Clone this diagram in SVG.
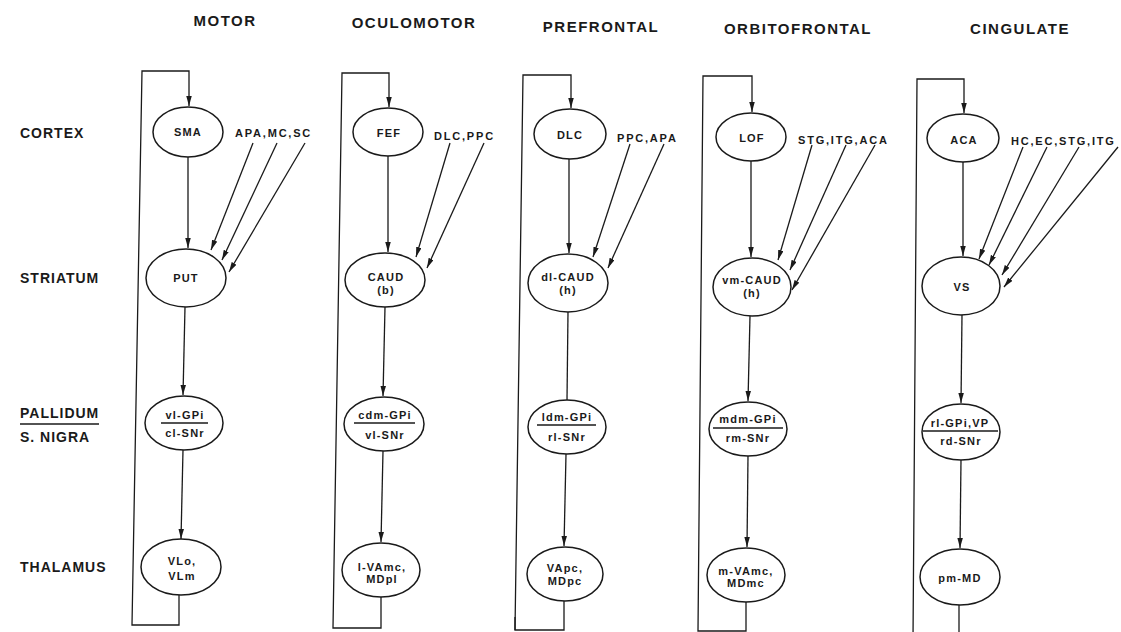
<svg xmlns="http://www.w3.org/2000/svg" width="1121" height="632" viewBox="0 0 1121 632">
  <style>
    .bg { fill: #ffffff; }
    .hdr { font-family: "Liberation Sans", Arial, sans-serif; font-weight: bold; font-size: 15px; letter-spacing: 1.5px; fill: #1a1a1a; text-anchor: middle; }
    .row { font-family: "Liberation Sans", Arial, sans-serif; font-weight: bold; font-size: 14px; letter-spacing: 1px; fill: #1a1a1a; }
    .nt { font-family: "Liberation Sans", Arial, sans-serif; font-weight: bold; font-size: 11px; letter-spacing: 1.2px; fill: #1a1a1a; text-anchor: middle; }
    .src { font-family: "Liberation Sans", Arial, sans-serif; font-weight: bold; font-size: 11px; letter-spacing: 1.8px; fill: #1a1a1a; }
    .node { fill: #ffffff; stroke: #1a1a1a; stroke-width: 1.5; }
    .bar { stroke: #1a1a1a; stroke-width: 1.3; }
    .edge { fill: none; stroke: #1a1a1a; stroke-width: 1.3; }
    .arr { marker-end: url(#head); }
  </style>
  <defs>
    <marker id="head" markerUnits="userSpaceOnUse" markerWidth="11" markerHeight="6" refX="10" refY="2.75" orient="auto">
      <path d="M0,0 L10,2.75 L0,5.5 z" fill="#1a1a1a"/>
    </marker>
  </defs>

  <rect class="bg" x="0" y="0" width="1121" height="632"/>

  <!-- circuit titles -->
  <g id="headers">
    <text class="hdr" x="225" y="26">MOTOR</text>
    <text class="hdr" x="414" y="28">OCULOMOTOR</text>
    <text class="hdr" x="601" y="32">PREFRONTAL</text>
    <text class="hdr" x="798" y="34">ORBITOFRONTAL</text>
    <text class="hdr" x="1020" y="34">CINGULATE</text>
  </g>

  <!-- structure levels -->
  <g id="levels">
    <text class="row" x="20" y="138">CORTEX</text>
    <text class="row" x="20" y="283">STRIATUM</text>
    <text class="row" x="20" y="418">PALLIDUM</text>
    <line class="bar" x1="20" y1="424" x2="99" y2="424"/>
    <text class="row" x="20" y="442">S. NIGRA</text>
    <text class="row" x="20" y="572">THALAMUS</text>
  </g>

  <!-- connectors -->
  <g id="connectors">
    <!-- motor -->
    <path class="edge arr" d="M179,595 L179,625 L132,625 L142,71 L189,71 L189,106"/>
    <path class="edge arr" d="M188,157 L188,248"/>
    <path class="edge arr" d="M253,143 L211,250"/>
    <path class="edge arr" d="M277,143 L222,260"/>
    <path class="edge arr" d="M305,143 L229,272"/>
    <path class="edge arr" d="M185,307 L183,395"/>
    <path class="edge arr" d="M183,450 L181,539"/>
    <!-- oculomotor -->
    <path class="edge arr" d="M381,597 L381,628 L333,628 L342,73 L389,73 L389,107"/>
    <path class="edge arr" d="M388,156 L388,252"/>
    <path class="edge arr" d="M450,143 L416,257"/>
    <path class="edge arr" d="M484,143 L427,268"/>
    <path class="edge arr" d="M385,307 L383,396"/>
    <path class="edge arr" d="M383,451 L381,542"/>
    <!-- prefrontal -->
    <path class="edge arr" d="M564,601 L564,630 L515,630 L523,75 L571,75 L571,108"/>
    <path class="edge" d="M515,617 L515,630"/>
    <path class="edge arr" d="M569,159 L569,253"/>
    <path class="edge arr" d="M630,144 L593,257"/>
    <path class="edge arr" d="M664,144 L608,268"/>
    <path class="edge" d="M568,312 L567,400"/>
    <path class="edge arr" d="M566,454 L564,546"/>
    <!-- orbitofrontal -->
    <path class="edge arr" d="M746,602 L746,631 L698,631 L703,76 L752,76 L752,112"/>
    <path class="edge arr" d="M751,161 L751,257"/>
    <path class="edge arr" d="M812,145 L778,260"/>
    <path class="edge arr" d="M846,145 L790,270"/>
    <path class="edge arr" d="M875,145 L792,290"/>
    <path class="edge arr" d="M750,316 L748,401"/>
    <path class="edge arr" d="M748,456 L747,547"/>
    <!-- cingulate -->
    <path class="edge" d="M959,605 L959,640"/>
    <path class="edge arr" d="M913,640 L917,79 L964,79 L964,113"/>
    <path class="edge arr" d="M963,162 L963,256"/>
    <path class="edge arr" d="M1023,147 L979,259"/>
    <path class="edge arr" d="M1047,147 L989,265"/>
    <path class="edge arr" d="M1079,147 L1002,275"/>
    <path class="edge arr" d="M1118,147 L1004,287"/>
    <path class="edge arr" d="M962,315 L961,403"/>
    <path class="edge arr" d="M961,460 L960,548"/>
  </g>

  <!-- motor circuit -->
  <g id="sma">
    <ellipse class="node" cx="188" cy="132" rx="35" ry="25"/>
    <text class="nt" x="188" y="136">SMA</text>
  </g>
  <text class="src" x="235" y="137">APA,MC,SC</text>
  <g id="put">
    <ellipse class="node" cx="186" cy="278" rx="40" ry="29"/>
    <text class="nt" x="186" y="282">PUT</text>
  </g>
  <g id="vl-gpi">
    <ellipse class="node" cx="184" cy="423" rx="39" ry="27"/>
    <text class="nt" x="185" y="419">vl-GPi</text>
    <line class="bar" x1="161" y1="423" x2="208" y2="423"/>
    <text class="nt" x="185" y="437">cl-SNr</text>
  </g>
  <g id="vlo">
    <ellipse class="node" cx="181" cy="567" rx="40" ry="28"/>
    <text class="nt" x="182" y="565">VLo,</text>
    <text class="nt" x="182" y="580">VLm</text>
  </g>

  <!-- oculomotor circuit -->
  <g id="fef">
    <ellipse class="node" cx="388" cy="132" rx="35" ry="24"/>
    <text class="nt" x="389" y="137">FEF</text>
  </g>
  <text class="src" x="434" y="140">DLC,PPC</text>
  <g id="caud-b">
    <ellipse class="node" cx="385" cy="280" rx="40" ry="27"/>
    <text class="nt" x="386" y="281">CAUD</text>
    <text class="nt" x="386" y="294">(b)</text>
  </g>
  <g id="cdm-gpi">
    <ellipse class="node" cx="384" cy="424" rx="40" ry="27"/>
    <text class="nt" x="385" y="419">cdm-GPi</text>
    <line class="bar" x1="354" y1="423" x2="415" y2="423"/>
    <text class="nt" x="385" y="439">vl-SNr</text>
  </g>
  <g id="l-vamc">
    <ellipse class="node" cx="381" cy="570" rx="39" ry="27"/>
    <text class="nt" x="382" y="571">l-VAmc,</text>
    <text class="nt" x="382" y="583">MDpl</text>
  </g>

  <!-- prefrontal circuit -->
  <g id="dlc">
    <ellipse class="node" cx="570" cy="134" rx="36" ry="25"/>
    <text class="nt" x="570" y="139">DLC</text>
  </g>
  <text class="src" x="617" y="142">PPC,APA</text>
  <g id="dl-caud">
    <ellipse class="node" cx="568" cy="283" rx="40" ry="29"/>
    <text class="nt" x="568" y="281">dl-CAUD</text>
    <text class="nt" x="568" y="294">(h)</text>
  </g>
  <g id="ldm-gpi">
    <ellipse class="node" cx="567" cy="427" rx="39" ry="27"/>
    <text class="nt" x="567" y="421">ldm-GPi</text>
    <line class="bar" x1="537" y1="425" x2="596" y2="425"/>
    <text class="nt" x="567" y="441">rl-SNr</text>
  </g>
  <g id="vapc">
    <ellipse class="node" cx="565" cy="574" rx="38" ry="27"/>
    <text class="nt" x="565" y="572">VApc,</text>
    <text class="nt" x="565" y="585">MDpc</text>
  </g>

  <!-- orbitofrontal circuit -->
  <g id="lof">
    <ellipse class="node" cx="751" cy="137" rx="35" ry="24"/>
    <text class="nt" x="752" y="142">LOF</text>
  </g>
  <text class="src" x="798" y="144">STG,ITG,ACA</text>
  <g id="vm-caud">
    <ellipse class="node" cx="752" cy="287" rx="39" ry="29"/>
    <text class="nt" x="752" y="284">vm-CAUD</text>
    <text class="nt" x="752" y="297">(h)</text>
  </g>
  <g id="mdm-gpi">
    <ellipse class="node" cx="748" cy="429" rx="39" ry="27"/>
    <text class="nt" x="748" y="423">mdm-GPi</text>
    <line class="bar" x1="713" y1="428" x2="783" y2="428"/>
    <text class="nt" x="748" y="442">rm-SNr</text>
  </g>
  <g id="m-vamc">
    <ellipse class="node" cx="746" cy="575" rx="39" ry="27"/>
    <text class="nt" x="746" y="575">m-VAmc,</text>
    <text class="nt" x="746" y="587">MDmc</text>
  </g>

  <!-- cingulate circuit -->
  <g id="aca">
    <ellipse class="node" cx="963" cy="138" rx="36" ry="24"/>
    <text class="nt" x="964" y="144">ACA</text>
  </g>
  <text class="src" x="1011" y="145">HC,EC,STG,ITG</text>
  <g id="vs">
    <ellipse class="node" cx="961" cy="286" rx="39" ry="29"/>
    <text class="nt" x="962" y="291">VS</text>
  </g>
  <g id="rl-gpi">
    <ellipse class="node" cx="961" cy="432" rx="39" ry="28"/>
    <text class="nt" x="960" y="427">rl-GPi,VP</text>
    <line class="bar" x1="923" y1="431" x2="998" y2="431"/>
    <text class="nt" x="961" y="445">rd-SNr</text>
  </g>
  <g id="pm-md">
    <ellipse class="node" cx="960" cy="577" rx="40" ry="28"/>
    <text class="nt" x="960" y="582">pm-MD</text>
  </g>
</svg>
